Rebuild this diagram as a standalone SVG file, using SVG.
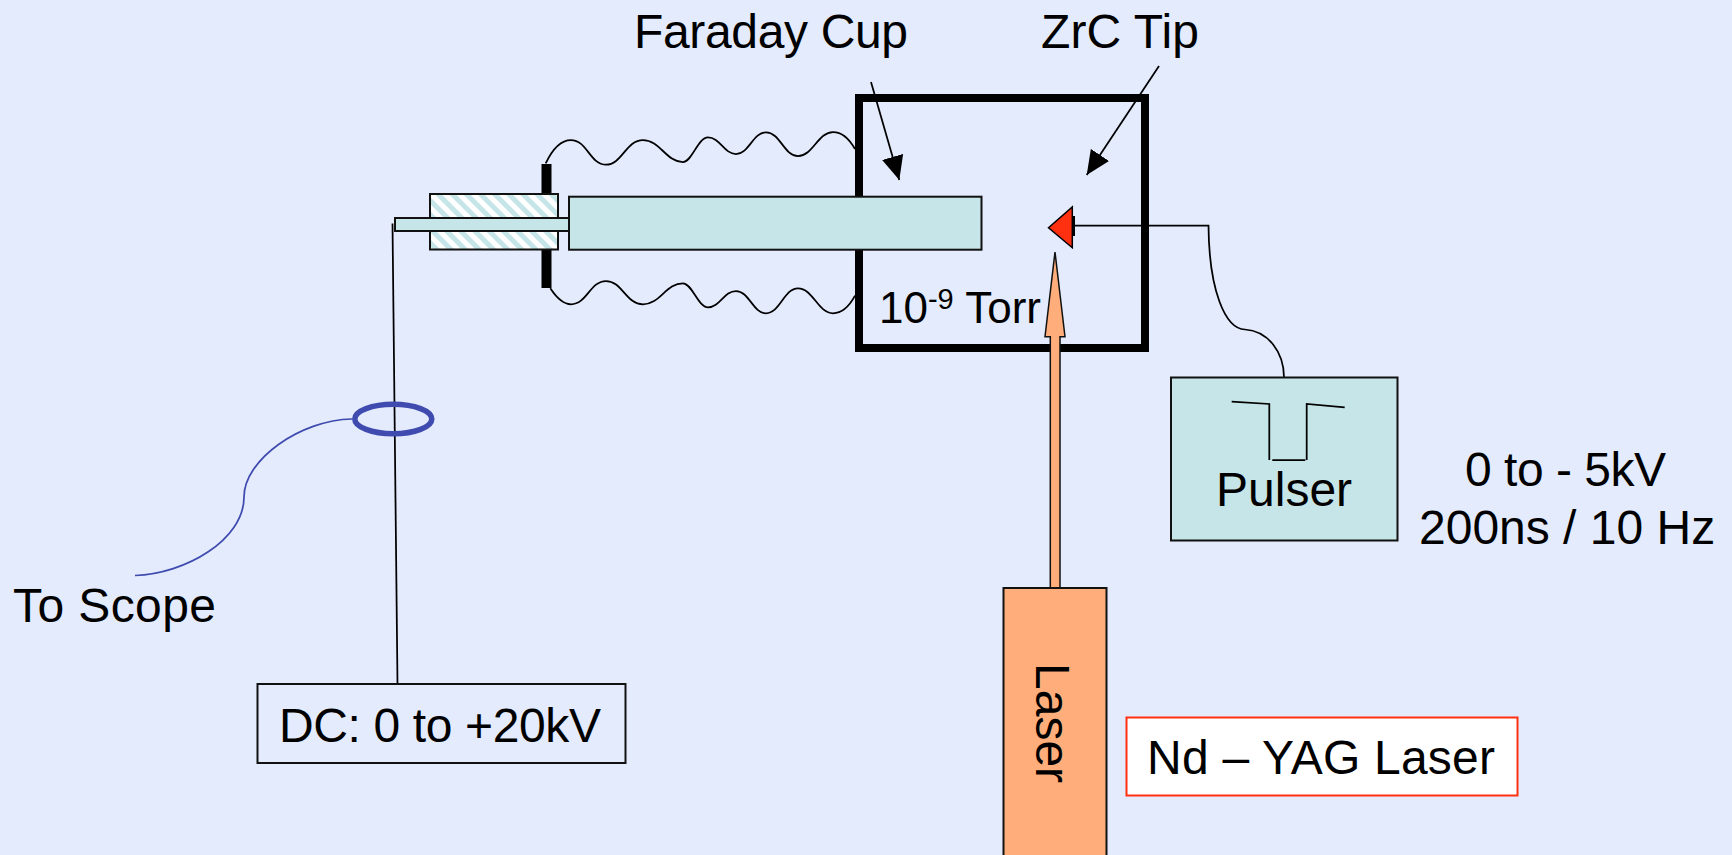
<svg xmlns="http://www.w3.org/2000/svg" width="1732" height="855" viewBox="0 0 1732 855">
<style>
text{font-family:"Liberation Sans",Arial,sans-serif;font-size:48px;fill:#000}
.b{stroke:#111;stroke-width:2}
.t{fill:#C6E5E8}
.w{fill:none;stroke:#000;stroke-width:1.75}
</style>
<defs>
<pattern id="h" width="10" height="10" patternUnits="userSpaceOnUse" patternTransform="rotate(-45)">
<rect width="10" height="10" fill="#fff"/><rect width="5" height="10" fill="#C6E5E8"/>
</pattern>
<marker id="ah" markerUnits="userSpaceOnUse" markerWidth="24" markerHeight="24" refX="22" refY="10" orient="auto" viewBox="0 0 22 20"><path d="M0 0L22 10L0 20Z" fill="#000"/></marker>
</defs>
<rect width="1732" height="855" fill="#E3EBFD"/>
<g id="chamber"><rect x="859" y="98" width="286" height="250" fill="none" stroke="#000" stroke-width="8"/></g>
<g id="connectors">
<path class="w" d="M545.700 163.300C552 150 561 140 571 140C587 140 590 164.700 606 164.700C622 164.700 626 140 643 140C660 140 666 162 683 162C692 162 698 137.300 708 137.300C720 137.300 724 154 736 154C749 154 753 132.300 766 132.300C780 132.300 784 156 798 156C813 156 818 132 833 132C843 132 850 140 855 149"/>
<path class="w" d="M550.300 288.300C556 297 563 304.300 571 304.300C587 304.300 590 281 606 281C622 281 626 304.300 643 304.300C660 304.300 666 283.300 683 283.300C692 283.300 698 307.300 708 307.300C720 307.300 724 291 736 291C749 291 753 313.300 766 313.300C780 313.300 784 288.300 798 288.300C813 288.300 818 313.300 833 313.300C843 313.300 850 305 855 295.700"/>
<path class="w" d="M392.500 223.500L397.500 684"/>
<path class="w" d="M871 82L899.300 180" marker-end="url(#ah)"/>
<path class="w" d="M1159 66L1086.700 175" marker-end="url(#ah)"/>
<path class="w" d="M1074 225.700H1208.500C1209 290 1225 329 1245 329.500C1268 331 1284 352 1284 377.500"/>
<path fill="none" stroke="#3F4BAF" stroke-width="1.750" d="M352 419C300 420 244 460 244 497C244 540 185 574 135 575.500"/>
</g>
<g id="ring"><ellipse cx="393.300" cy="419" rx="38.500" ry="14.750" fill="none" stroke="#3F4BAF" stroke-width="5.500"/></g>
<g id="flange"><rect x="541.500" y="164" width="10" height="30" fill="#000"/><rect x="541.500" y="250" width="10" height="38" fill="#000"/></g>
<g id="insulator"><rect class="b" x="430" y="194" width="128" height="55.500" fill="url(#h)"/></g>
<g id="rod"><rect class="b t" x="395" y="218" width="174" height="13"/></g>
<g id="faraday-cup"><rect class="b t" x="569" y="196.700" width="412.500" height="53"/></g>
<g id="tip"><path d="M1048.500 227.700L1072.300 207V247.700Z" fill="#FF3010" stroke="#000" stroke-width="1.500"/><path d="M1074 216V236" stroke="#000" stroke-width="2"/></g>
<g id="laser-beam"><path d="M1055 252L1065 336.700H1060V588H1050.300V336.700H1045Z" fill="#FFAD7A" stroke="#111" stroke-width="1.500"/></g>
<g id="laser"><rect class="b" x="1003.500" y="588" width="103" height="270" fill="#FFAD7A"/><text transform="translate(1036 663) rotate(90)">Laser</text></g>
<g id="pulser"><rect class="b t" x="1171" y="377.500" width="226.500" height="163"/>
<path class="w" d="M1231.700 401.700L1269.300 404V460M1272.300 460H1305.300M1306.700 460V404L1344.700 407.300"/>
<text x="1216" y="506">Pulser</text></g>
<g id="dc"><rect class="b" x="257.500" y="684" width="368" height="79" fill="none"/><text x="279" y="742" textLength="322">DC: 0 to +20kV</text></g>
<g id="nd-yag"><rect x="1126.500" y="717.500" width="391" height="78" fill="#fff" stroke="#FF3010" stroke-width="2"/><text x="1147" y="774" textLength="348">Nd – YAG Laser</text></g>
<g id="labels">
<text x="634" y="48" textLength="274">Faraday Cup</text>
<text x="1041" y="48" textLength="158">ZrC Tip</text>
<text x="879" y="323" style="font-size:44px">10<tspan dy="-14" style="font-size:29px">-9</tspan><tspan dy="14"> Torr</tspan></text>
<text x="13" y="622" textLength="203">To Scope</text>
<text x="1465" y="486" textLength="201">0 to - 5kV</text>
<text x="1419" y="544">200ns / 10 Hz</text>
</g>
</svg>
